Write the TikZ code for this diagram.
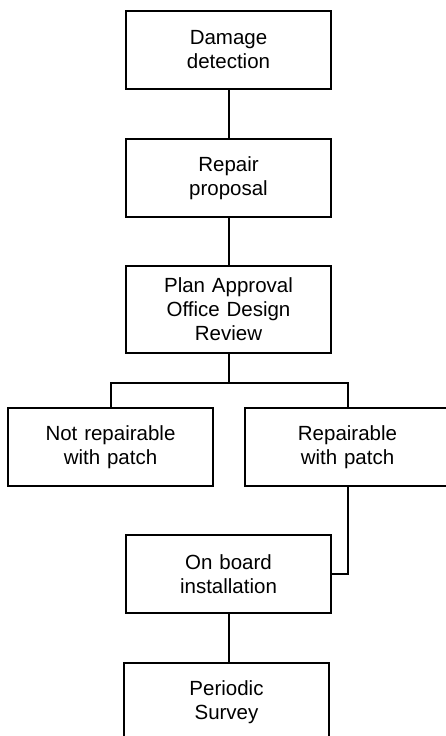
\documentclass[tikz,border=0pt]{standalone}
\usepackage{fontspec}
\setmainfont{Liberation Sans}
\usepackage{tikz}
\usetikzlibrary{positioning}

\begin{document}
\begin{tikzpicture}[x=1pt, y=1pt, node distance=48pt,
    box/.style={rectangle, draw, line width=2pt, text width=195pt, align=center,
      minimum width=205pt, minimum height=78pt, inner sep=0pt,
      font=\fontsize{20.5}{24}\selectfont}]
    \useasboundingbox (0,0) rectangle (446,-736);
    \clip (0,0) rectangle (446,-736);
    \node[box] (detect) at (228.5,-50) {Damage\\detection};
    \node[box, below=of detect] (proposal) {Repair\\proposal};
    \node[box, below=47pt of proposal, minimum height=87pt] (review) {Plan Approval\\Office Design\\Review};
    \node[box, below=53pt of review, xshift=-118pt] (nopatch) {Not repairable\\with patch};
    \node[box, below=53pt of review, xshift=119pt] (patch) {Repairable\\with patch};
    \node[box, below=47pt of patch, xshift=-119pt] (install) {On board\\installation};
    \node[box, below=of install, xshift=-2pt] (survey) {Periodic\\Survey};

    \draw[line width=2pt] (detect) -- (proposal);
    \draw[line width=2pt] (proposal) -- (review);
    \draw[line width=2pt] (review.south) -- ++(0,-29) coordinate (split);
    \draw[line width=2pt] (nopatch.north) |- (split) -| (patch.north);
    \draw[line width=2pt] (patch.south) |- (install.east);
    \draw[line width=2pt] (install.south) -- (install.south |- survey.north);
\end{tikzpicture}
\end{document}
